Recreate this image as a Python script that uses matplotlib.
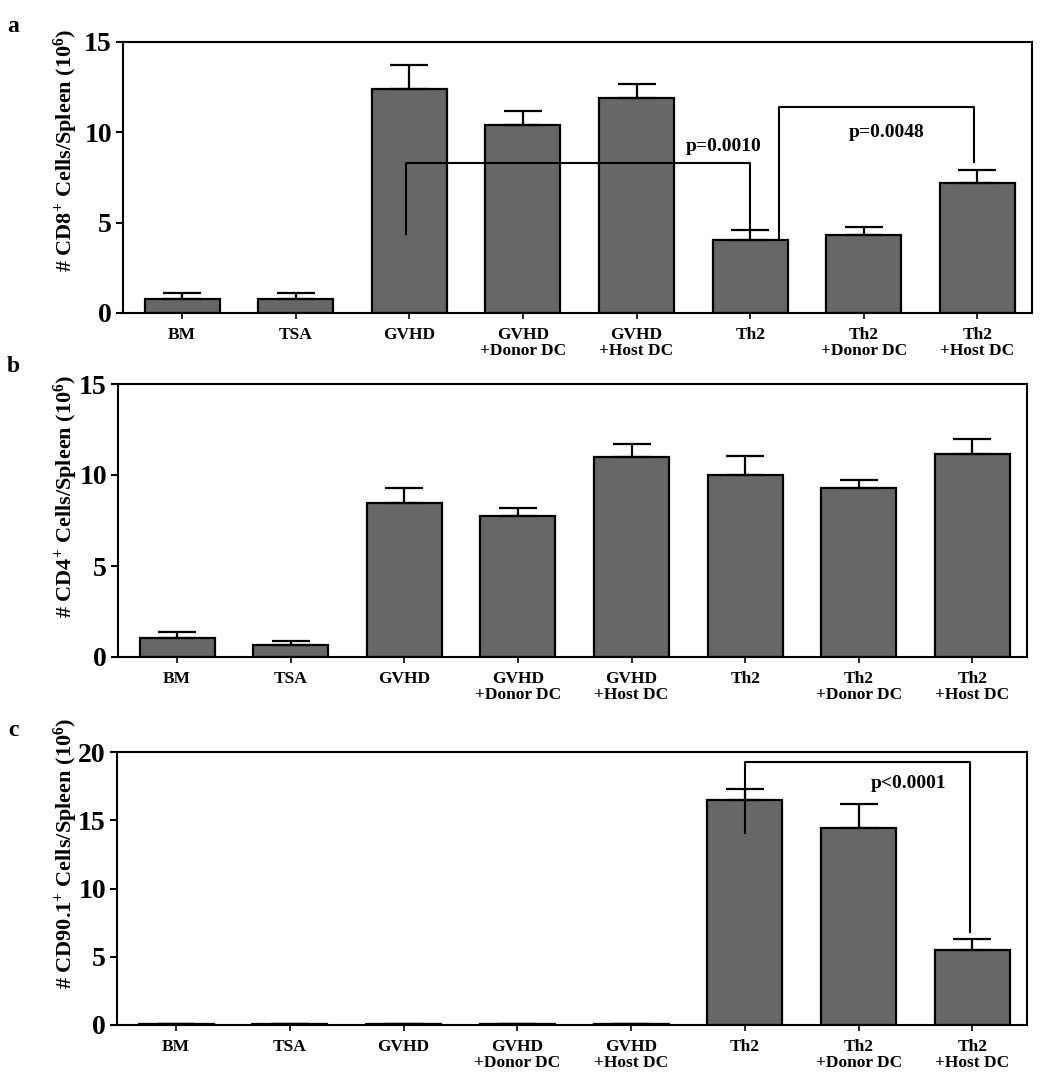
import matplotlib
matplotlib.use('Agg')
import matplotlib.pyplot as plt
import numpy as np

# 数据
groups = ['BM', 'TSA', 'GVHD', 'GVHD\n+Donor DC', 'GVHD\n+Host DC',
          'Th2', 'Th2\n+Donor DC', 'Th2\n+Host DC']

cd8_mean = [0.8, 0.8, 12.4, 10.4, 11.9, 4.05, 4.3, 7.2]
cd8_err = [0.3, 0.3, 1.3, 0.8, 0.8, 0.55, 0.45, 0.7]

cd4_mean = [1.04, 0.68, 8.46, 7.76, 10.97, 9.98, 9.29, 11.15]
cd4_err = [0.33, 0.18, 0.83, 0.43, 0.73, 1.08, 0.44, 0.81]

cd90_mean = [0.05, 0.05, 0.05, 0.05, 0.05, 16.45, 14.43, 5.49]
cd90_err = [0, 0, 0, 0, 0, 0.85, 1.77, 0.81]

# 显著性标注: (左x, 右x, 左端y, 顶部y, 右端y, 文字, 文字x, 文字y)
sig_a = [(1.97, 5.0, 4.4, 8.3, 4.6, 'p=0.0010', 4.77, 9.2),
         (5.25, 6.97, 4.06, 11.4, 8.35, 'p=0.0048', 6.2, 10.0)]
sig_b = []
sig_c = [(5.0, 6.98, 14.07, 19.3, 6.78, 'p<0.0001', 6.44, 17.7)]

plt.rcParams['font.family'] = 'Liberation Serif'
plt.rcParams['font.weight'] = 'bold'
plt.rcParams['mathtext.fontset'] = 'custom'
plt.rcParams['mathtext.rm'] = 'Liberation Serif:bold'
plt.rcParams['mathtext.bf'] = 'Liberation Serif:bold'
plt.rcParams['mathtext.it'] = 'Liberation Serif:bold'

fig = plt.figure(figsize=(10.5, 10.8), dpi=100)

W, H = 1050.0, 1080.0
boxes = [(123, 1032, 42, 313), (118, 1027, 384, 657), (117, 1027, 752, 1025)]
panels = [
    ('a', cd8_mean, cd8_err, 15, [0, 5, 10, 15],
     r'# CD8$^{+}$ Cells/Spleen (10$^{6}$)', sig_a, 26, 0.60),
    ('b', cd4_mean, cd4_err, 15, [0, 5, 10, 15],
     r'# CD4$^{+}$ Cells/Spleen (10$^{6}$)', sig_b, 366, 0.59),
    ('c', cd90_mean, cd90_err, 20, [0, 5, 10, 15, 20],
     r'# CD90.1$^{+}$ Cells/Spleen (10$^{6}$)', sig_c, 731, 0.63),
]

x = np.arange(len(groups))

for (l, r, t, b), (tag, mean, err, ymax, yt, ylab, sigs, ty, ly) in zip(boxes, panels):
    ax = fig.add_axes([l / W, 1 - b / H, (r - l) / W, (b - t) / H])
    ax.bar(x, mean, width=0.66, color='#676767', edgecolor='black', linewidth=1.6,
           yerr=[np.zeros(len(err)), err], capsize=14,
           error_kw=dict(elinewidth=1.6, capthick=1.6, ecolor='black'))
    ax.set_xlim(-0.52, 7.48)
    ax.set_ylim(0, ymax)
    ax.set_yticks(yt)
    ax.set_xticks(x)
    ax.set_xticklabels(groups, fontsize=12.5, fontweight='bold', linespacing=1.0)
    ax.tick_params(axis='y', labelsize=20, length=5, width=1.5, direction='out', pad=3)
    ax.tick_params(axis='x', length=4, width=1.2, direction='out', pad=6)
    for s in ax.spines.values():
        s.set_linewidth(1.5)
    ax.set_ylabel(ylab, fontsize=16, fontweight='bold')
    ax.yaxis.set_label_coords((80 - l) / (r - l), ly)

    for (x1, x2, y1, ytop, y2, txt, tx, tyy) in sigs:
        ax.plot([x1, x1, x2, x2], [y1, ytop, ytop, y2], color='black', linewidth=1.5)
        ax.text(tx, tyy, txt, ha='center', va='center', fontsize=14, fontweight='bold')

    fig.text(13 / W, 1 - ty / H, tag, ha='center', va='center', fontsize=17,
             fontweight='bold')

fig.savefig('out.png', dpi=100)
